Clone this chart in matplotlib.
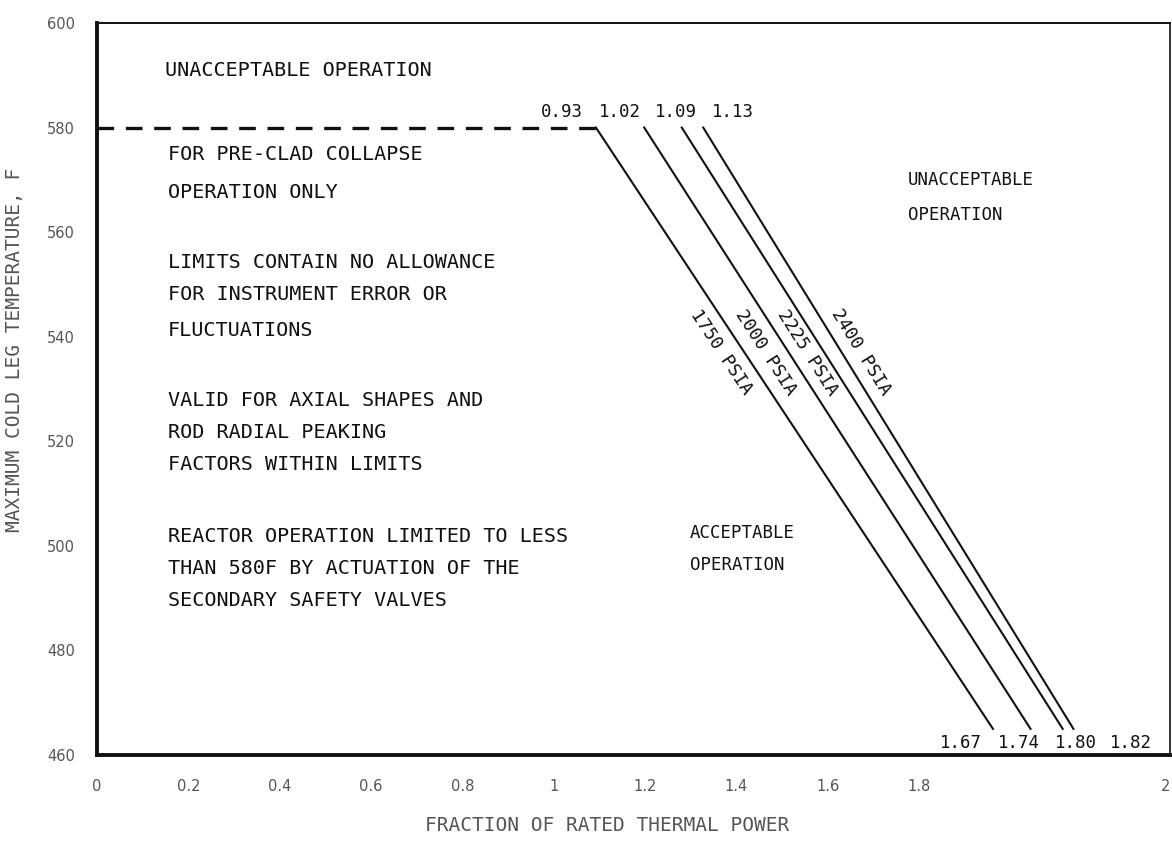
import numpy as np
import matplotlib
matplotlib.use("Agg")
import matplotlib.pyplot as plt

# Core-protection limit lines: reactor power at which each pressure line
# crosses the upper (580 F) and lower (465 F) cold-leg temperatures.
pressure_labels = ["1750 PSIA", "2000 PSIA", "2225 PSIA", "2400 PSIA"]
power_at_top = [0.93, 1.02, 1.09, 1.13]
power_at_bottom = [1.67, 1.74, 1.80, 1.82]
temp_top = 580
temp_bottom = 465

# Safety-valve limit (dashed) at 580 F up to the first limit line
valve_limit_power = [0.0, 0.93]
valve_limit_temp = [580, 580]

x_tick_labels = ["0", "0.2", "0.4", "0.6", "0.8", "1", "1.2", "1.4", "1.6", "1.8", "2"]
y_ticks = [460, 480, 500, 520, 540, 560, 580, 600]

W, H = 1172, 842
fig = plt.figure(figsize=(W / 100, H / 100), dpi=100)
ax = fig.add_axes([97 / W, 1 - 755 / H, 1073 / W, 732 / H])
ax.set_xlim(0, 2)
ax.set_ylim(460, 600)

mono = "DejaVu Sans Mono"
ink = "#111111"
faded = "#555555"

# Spines: heavy left/bottom, light top/right
for side, lw in (("left", 2.8), ("bottom", 2.8), ("top", 1.4), ("right", 1.2)):
    ax.spines[side].set_linewidth(lw)
    ax.spines[side].set_color(ink)

# Tick labels (printed scale of the original drawing)
tick_pos = list(np.linspace(0, 1.532, 10)) + [2.0]
ax.set_xticks(tick_pos)
ax.set_xticklabels(x_tick_labels, fontsize=10.5, color=faded)
ax.get_xticklabels()[-1].set_horizontalalignment("right")
ax.set_yticks(y_ticks)
ax.set_yticklabels([str(v) for v in y_ticks], fontsize=10.5, color=faded)
ax.tick_params(axis="x", length=0, pad=17)
ax.tick_params(axis="y", length=0, pad=16)

ax.set_xlabel("FRACTION OF RATED THERMAL POWER", fontsize=14, family=mono,
              color=faded)
ax.xaxis.set_label_coords((607 - 97) / 1073, -(816 - 755) / 732)
ax.set_ylabel("MAXIMUM COLD LEG TEMPERATURE, F", fontsize=14, family=mono,
              color=faded)
ax.yaxis.set_label_coords(-(97 - 24) / 1073, (755 - 350) / 732)

# Dashed valve limit
ax.plot(valve_limit_power, valve_limit_temp, color=ink, lw=2.4,
        dashes=(5, 3.5), solid_capstyle="butt")

# Pressure limit lines
for x0, x1 in zip(power_at_top, power_at_bottom):
    ax.plot([x0, x1], [temp_top, temp_bottom], color=ink, lw=1.5)

# Power values at the upper end of each line
top_offsets = [(-34, 16), (-24, 16), (-6, 16), (30, 16)]
for x0, off in zip(power_at_top, top_offsets):
    ax.annotate(f"{x0:.2f}", xy=(x0, temp_top), xytext=off,
                textcoords="offset pixels", ha="center", va="center",
                fontsize=12.5, family=mono, color=ink)

# Power values at the lower end of each line
bottom_offsets = [(-32, -14), (-12, -14), (13, -14), (58, -14)]
for x1, off in zip(power_at_bottom, bottom_offsets):
    ax.annotate(f"{x1:.2f}", xy=(x1, temp_bottom), xytext=off,
                textcoords="offset pixels", ha="center", va="center",
                fontsize=12.5, family=mono, color=ink)

# Pressure labels running along each line
fig.canvas.draw()
label_temp = 537
label_offsets = [-23, -23, -17, 19]
for name, x0, x1, dx in zip(pressure_labels, power_at_top, power_at_bottom,
                            label_offsets):
    p0 = ax.transData.transform((x0, temp_top))
    p1 = ax.transData.transform((x1, temp_bottom))
    angle = np.degrees(np.arctan2(p1[1] - p0[1], p1[0] - p0[0]))
    frac = (temp_top - label_temp) / (temp_top - temp_bottom)
    xl = x0 + frac * (x1 - x0)
    ax.annotate(name, xy=(xl, label_temp), xytext=(dx, 0),
                textcoords="offset pixels", ha="center", va="center",
                rotation=angle, rotation_mode="anchor",
                fontsize=13, family=mono, color=ink)


def fx(px):
    return (px - 97) / 1073


def fy(py):
    return (755 - py) / 732


body = dict(transform=ax.transAxes, family=mono, color=ink, va="center",
            ha="left")

ax.text(fx(165), fy(70), "UNACCEPTABLE OPERATION", fontsize=14.5, **body)

notes = [
    (155, "FOR PRE-CLAD COLLAPSE"),
    (193, "OPERATION ONLY"),
    (263, "LIMITS CONTAIN NO ALLOWANCE"),
    (295, "FOR INSTRUMENT ERROR OR"),
    (330, "FLUCTUATIONS"),
    (400, "VALID FOR AXIAL SHAPES AND"),
    (432, "ROD RADIAL PEAKING"),
    (464, "FACTORS WITHIN LIMITS"),
    (536, "REACTOR OPERATION LIMITED TO LESS"),
    (568, "THAN 580F BY ACTUATION OF THE"),
    (600, "SECONDARY SAFETY VALVES"),
]
for py, line in notes:
    ax.text(fx(168), fy(py), line, fontsize=14.5, **body)

ax.text(fx(908), fy(180), "UNACCEPTABLE", fontsize=12.5, **body)
ax.text(fx(908), fy(215), "OPERATION", fontsize=12.5, **body)
ax.text(fx(690), fy(533), "ACCEPTABLE", fontsize=12.5, **body)
ax.text(fx(690), fy(565), "OPERATION", fontsize=12.5, **body)

fig.savefig("out.png", dpi=100, facecolor="white")
